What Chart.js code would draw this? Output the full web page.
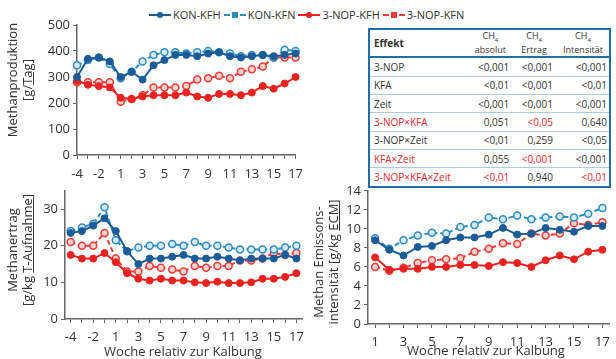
<!DOCTYPE html>
<html>
<head>
<meta charset="utf-8">
<script src="https://cdn.jsdelivr.net/npm/chart.js@4/dist/chart.umd.min.js"></script>
<style>
  body { margin: 0; width: 616px; height: 359px; background: #fff; font-family: 'Open Sans', sans-serif; color: #333; position: relative; overflow: hidden; }
  canvas { position: absolute; }
  .ytitle { position: absolute; text-align: center; font-size: 13px; line-height: 15px; transform: rotate(-90deg); white-space: nowrap; }
  .xtitle { position: absolute; font-size: 13px; white-space: nowrap; transform: translateX(-50%); }
  #legend { position: absolute; top: 7px; left: 149px; font-size: 11px; display: flex; }
  .item { display: flex; align-items: center; margin-right: 3px; }
  .sym { position: relative; width: 22px; height: 12px; margin-right: 2px; }
  .sym .ln { position: absolute; left: 0; right: 0; top: 5px; border-top: 2px solid; }
  .sym .mk { position: absolute; left: 8px; top: 3px; width: 6px; height: 6px; }
  #tbl { position: absolute; left: 368px; top: 28px; width: 243px; height: 160px; border: 2.5px solid #1d6ea9; box-sizing: border-box; border-collapse: collapse; font-size: 10px; z-index: 2; background: #fff; }
  #tbl td, #tbl th { padding: 0 2px 0 4px; border-bottom: 1px solid #a9cbe3; text-align: right; }
  #tbl th { font-weight: normal; font-size: 9px; line-height: 10px; text-align: center; border-bottom: 2.5px solid #1d6ea9; height: 26px; }
  #tbl th:first-child { text-align: left; font-weight: bold; font-size: 10px; }
  #tbl td:first-child { text-align: left; }
  .r { color: #e8271f; }
</style>
</head>
<body>
<div id="legend"></div>
<canvas id="c1" style="left:0;top:0" width="310" height="185"></canvas>
<canvas id="c2" style="left:0;top:180px" width="310" height="179"></canvas>
<canvas id="c3" style="left:300px;top:180px" width="316" height="179"></canvas>

<div class="ytitle" style="left:-50px;top:65px;width:140px;height:30px">Methanproduktion<br>[g/<u>Tag</u>]</div>
<div class="ytitle" style="left:-50px;top:235px;width:140px;height:30px">Methanertrag<br>[g/kg <u>T-Aufnahme</u>]</div>
<div class="ytitle" style="left:256px;top:247px;width:140px;height:30px">Methan Emissons-<br>intensität [g/kg <u>ECM</u>]</div>
<div class="xtitle" style="left:183px;top:342px">Woche relativ zur Kalbung</div>
<div class="xtitle" style="left:486px;top:341px">Woche relativ zur Kalbung</div>

<table id="tbl"></table>

<script>
// Wochen relativ zur Kalbung (ohne Woche 0)
const weeksAll = [-4, -3, -2, -1, 1, 2, 3, 4, 5, 6, 7, 8, 9, 10, 11, 12, 13, 14, 15, 16, 17];
const weeksPost = [1, 2, 3, 4, 5, 6, 7, 8, 9, 10, 11, 12, 13, 14, 15, 16, 17];

// Methanproduktion g/Tag
const prodKonKfh = [300, 370, 375, 360, 300, 320, 290, 345, 365, 385, 385, 380, 390, 395, 380, 375, 380, 385, 380, 385, 390];
const prodKonKfn = [345, 365, 375, 350, 295, 320, 360, 385, 395, 395, 390, 395, 400, 395, 390, 380, 385, 385, 375, 405, 400];
const prodNopKfh = [285, 270, 265, 260, 220, 215, 225, 230, 230, 230, 240, 225, 220, 235, 235, 230, 240, 265, 255, 275, 300];
const prodNopKfn = [280, 280, 280, 280, 205, 215, 230, 260, 260, 260, 265, 290, 295, 305, 295, 320, 330, 340, 375, 375, 375];

// Methanertrag g/kg T-Aufnahme
const ertKonKfh = [23.5, 24, 25.5, 27.5, 24, 18.5, 15, 16.5, 16.5, 17, 17.5, 16.5, 16.5, 17, 16.5, 16, 16.5, 16.5, 16.5, 17.5, 16.5];
const ertKonKfn = [24, 25, 26, 30.5, 21.5, 18.5, 19.5, 20, 20, 20.5, 20, 21, 20, 20, 19.5, 19, 19, 19, 19, 19.5, 20];
const ertNopKfh = [17.5, 16.5, 16.5, 18, 15.5, 12.5, 11, 10.5, 11, 10.5, 10.5, 10, 9.8, 10.2, 9.8, 9.8, 10, 11, 11, 11.5, 12.5];
const ertNopKfn = [21, 20, 20, 23.5, 16.5, 13, 13, 14.5, 14, 13.5, 13, 14.5, 14, 14.5, 14.5, 16, 16, 16.5, 18, 17.5, 18];

// Emissionsintensität g/kg ECM
const intKonKfh = [8.8, 7.8, 7.2, 8.1, 8.2, 8.8, 9.1, 9.1, 9.4, 10.1, 9.4, 9.5, 10.1, 9.9, 9.7, 10.3, 10.3];
const intKonKfn = [9.0, 7.9, 8.8, 9.3, 9.6, 9.5, 10.2, 10.4, 11.2, 11.0, 11.4, 11.0, 11.2, 11.3, 11.2, 11.6, 12.2];
const intNopKfh = [7.0, 5.7, 5.8, 5.8, 6.0, 6.0, 6.2, 6.2, 6.1, 6.5, 6.4, 6.0, 6.7, 7.2, 6.8, 7.6, 7.8];
const intNopKfn = [6.0, 5.6, 5.9, 6.4, 6.7, 6.8, 6.9, 7.6, 7.9, 8.5, 8.4, 9.5, 9.3, 9.5, 10.6, 10.4, 10.7];

const seriesNames = ['KON-KFH', 'KON-KFN', '3-NOP-KFH', '3-NOP-KFN'];
const seriesColors = ['#1b5c98', '#2b8cc2', '#e8231f', '#ea3b36'];
const seriesFill = ['#1b5c98', '#d6eaf6', '#e8231f', '#f9d2d0'];
const seriesDashed = [false, true, false, true];

// Tabelle
const tblHead = ['Effekt', 'absolut', 'Ertrag', 'Intensität'];
const tblEffects = ['3-NOP', 'KFA', 'Zeit', '3-NOP×KFA', '3-NOP×Zeit', 'KFA×Zeit', '3-NOP×KFA×Zeit'];
const tblAbsolut = ['<0,001', '<0,01', '<0,001', '0,051', '<0,01', '0,055', '<0,01'];
const tblErtrag = ['<0,001', '<0,001', '<0,001', '<0,05', '0,259', '<0,001', '0,940'];
const tblIntens = ['<0,001', '<0,01', '<0,001', '0,640', '<0,05', '<0,001', '<0,01'];
const redEffects = [3, 5, 6];
const redCells = ['3-2', '5-2', '6-1', '6-3'];

const makeSets = (vals) => vals.map((v, i) => ({
  label: seriesNames[i],
  data: v,
  borderColor: seriesColors[i],
  backgroundColor: seriesColors[i],
  pointBackgroundColor: seriesFill[i],
  pointBorderColor: seriesColors[i],
  pointBorderWidth: seriesDashed[i] ? 1.5 : 1,
  pointRadius: 3.5,
  borderWidth: 2,
  borderDash: seriesDashed[i] ? [5, 3] : [],
  tension: 0,
}));

const graph = (id, labels, vals, opts) => {
  new Chart(document.getElementById(id), {
    type: 'line',
    data: { labels: labels, datasets: makeSets(vals) },
    options: {
      responsive: false,
      animation: false,
      layout: { padding: { top: opts.top, right: opts.right, left: 0, bottom: 0 } },
      plugins: { legend: { display: false }, tooltip: { enabled: false } },
      scales: {
        x: {
          offset: opts.offset,
          grid: { drawOnChartArea: false, tickLength: 4, color: '#666' },
          border: { color: '#666', width: 1.5 },
          ticks: {
            autoSkip: false, maxRotation: 0, padding: opts.tpad, color: '#333',
            font: { family: 'Open Sans', size: 13 },
            callback: (v, i) => (i % 2 === 0 ? labels[i] : ''),
          },
          afterFit: (a) => { a.height = opts.xh; },
        },
        y: {
          min: 0, max: opts.max,
          grid: { drawOnChartArea: false, tickLength: 4, color: '#666' },
          border: { color: '#666', width: 1.5 },
          ticks: { stepSize: opts.step, padding: 3, color: '#333', font: { family: 'Open Sans', size: 13 } },
          afterFit: (a) => { a.width = opts.yw; },
        },
      },
    },
  });
};

graph('c1', weeksAll, [prodKonKfh, prodKonKfn, prodNopKfh, prodNopKfn],
  { top: 25, right: 14, yw: 77, xh: 30, tpad: 7, offset: false, max: 500, step: 100 });
graph('c2', weeksAll, [ertKonKfh, ertKonKfn, ertNopKfh, ertNopKfn],
  { top: 8, right: 7, yw: 65, xh: 40, tpad: 6, offset: true, max: 35, step: 5 });
graph('c3', weeksPost, [intKonKfh, intKonKfn, intNopKfh, intNopKfn],
  { top: 7, right: 0, yw: 68, xh: 35, tpad: 6, offset: true, max: 14, step: 2 });

// Legende
const legend = document.getElementById('legend');
seriesNames.forEach((n, i) => {
  const item = document.createElement('div');
  item.className = 'item';
  const sym = document.createElement('span');
  sym.className = 'sym';
  const ln = document.createElement('span');
  ln.className = 'ln';
  ln.style.borderTopColor = seriesColors[i];
  if (seriesDashed[i]) ln.style.borderTopStyle = 'dashed';
  const mk = document.createElement('span');
  mk.className = 'mk';
  mk.style.background = seriesColors[i];
  if (!seriesDashed[i]) mk.style.borderRadius = '50%';
  sym.appendChild(ln);
  sym.appendChild(mk);
  const txt = document.createElement('span');
  txt.innerText = n;
  item.appendChild(sym);
  item.appendChild(txt);
  legend.appendChild(item);
});

// Tabelle aufbauen
const tbl = document.getElementById('tbl');
const hr = document.createElement('tr');
tblHead.forEach((h, i) => {
  const th = document.createElement('th');
  if (i === 0) th.innerText = h;
  else th.innerHTML = 'CH<sub style="font-size:6px">4</sub><br>' + h;
  hr.appendChild(th);
});
tbl.appendChild(hr);
tblEffects.forEach((e, r) => {
  const tr = document.createElement('tr');
  [e, tblAbsolut[r], tblErtrag[r], tblIntens[r]].forEach((v, c) => {
    const td = document.createElement('td');
    td.innerText = v;
    if ((c === 0 && redEffects.includes(r)) || redCells.includes(r + '-' + c)) td.className = 'r';
    tr.appendChild(td);
  });
  tbl.appendChild(tr);
});
</script>
</body>
</html>
